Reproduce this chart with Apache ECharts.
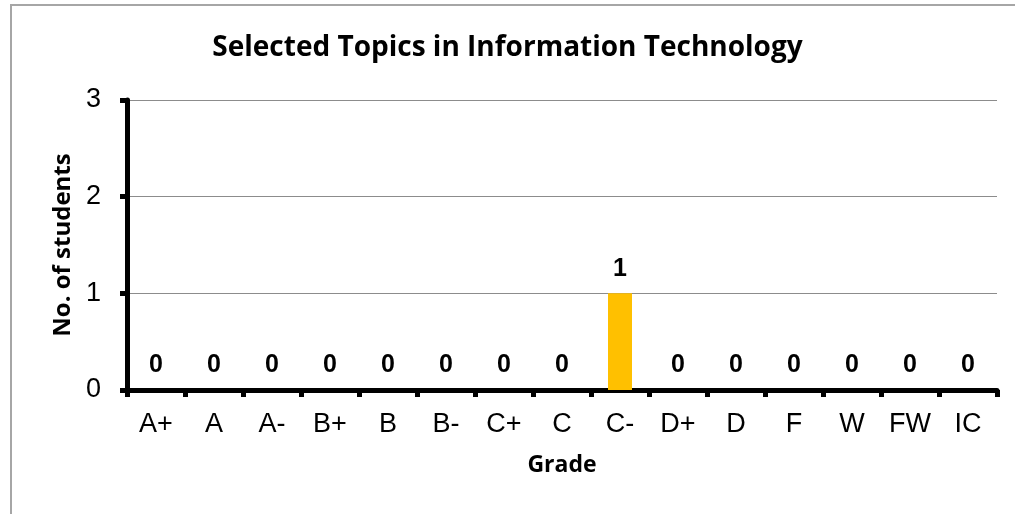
<!DOCTYPE html>
<html>
<head>
<meta charset="utf-8">
<script src="https://cdn.jsdelivr.net/npm/echarts@6/dist/echarts.min.js"></script>
<style>
  html, body { margin: 0; padding: 0; background: #fff; }
  #chart { width: 1015px; height: 514px; }
</style>
</head>
<body>
<div id="chart"></div>
<script>
var grades = ['A+', 'A', 'A-', 'B+', 'B', 'B-', 'C+', 'C', 'C-', 'D+', 'D', 'F', 'W', 'FW', 'IC'];
var students = [0, 0, 0, 0, 0, 0, 0, 0, 1, 0, 0, 0, 0, 0, 0];
var yTicks = [0, 1, 2, 3];

var chart = echarts.init(document.getElementById('chart'));
chart.setOption({
    animation: false,
    graphic: [{
        type: 'rect',
        shape: { x: 11, y: 5, width: 1100, height: 600 },
        style: { fill: 'none', stroke: '#a6a6a6', lineWidth: 2 }
    }],
    title: {
        text: 'Selected Topics in Information Technology',
        left: 'center',
        top: 29,
        textStyle: { fontFamily: 'Open Sans', fontWeight: 'bold', fontSize: 28, color: '#000' }
    },
    grid: { left: 127, right: 18, top: 100, bottom: 124 },
    xAxis: {
        type: 'category',
        data: grades,
        name: 'Grade',
        nameLocation: 'middle',
        nameGap: 64,
        nameTextStyle: { fontFamily: 'Open Sans', fontWeight: 'bold', fontSize: 23, color: '#000' },
        axisLine: { lineStyle: { color: '#000', width: 5 } },
        axisTick: { show: true, length: 7, lineStyle: { color: '#000', width: 5 } },
        axisLabel: { fontFamily: 'Liberation Sans', fontSize: 27, color: '#000', margin: 21 }
    },
    yAxis: {
        type: 'value',
        min: yTicks[0],
        max: yTicks[yTicks.length - 1],
        interval: 1,
        name: 'No. of students',
        nameLocation: 'middle',
        nameGap: 52,
        nameTextStyle: { fontFamily: 'Open Sans', fontWeight: 'bold', fontSize: 24, color: '#000' },
        axisLine: { show: true, lineStyle: { color: '#000', width: 5 } },
        axisTick: { show: true, length: 7, lineStyle: { color: '#000', width: 5 } },
        axisLabel: { fontFamily: 'Liberation Sans', fontSize: 27, color: '#000', margin: 26 },
        splitLine: { lineStyle: { color: '#8c8c8c', width: 1 } }
    },
    series: [{
        type: 'bar',
        data: students,
        barWidth: 24,
        itemStyle: { color: '#FFC000' },
        label: {
            show: true,
            position: 'top',
            distance: 12,
            fontFamily: 'Liberation Sans',
            fontWeight: 'bold',
            fontSize: 25,
            color: '#000'
        }
    }]
});
</script>
</body>
</html>
